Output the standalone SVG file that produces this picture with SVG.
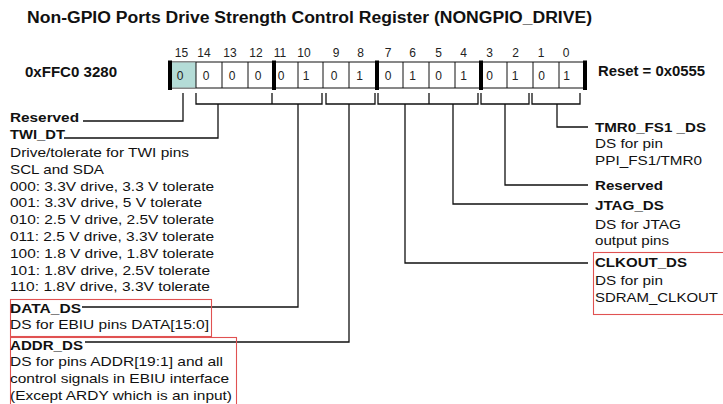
<svg xmlns="http://www.w3.org/2000/svg" width="723" height="404" viewBox="0 0 723 404">
<style>
text { font-family: "Liberation Sans", Arial, sans-serif; fill: #111; }
.title { font-size: 16px; font-weight: bold; }
.hdr { font-size: 14px; font-weight: bold; }
.num { font-size: 12px; text-anchor: middle; fill: #222; }
.lbl { font-size: 13px; font-weight: bold; }
.txt { font-size: 13px; }
.cell { fill: #fff; stroke: #111; stroke-width: 1; }
.bar { fill: #000; }
.conn { fill: none; stroke: #111; stroke-width: 1.3; }
.red { fill: none; stroke: #e05252; stroke-width: 1.1; }
</style>
<rect width="723" height="404" fill="#fff"/>

<g id="title">
<text class="title" x="27" y="23" textLength="565" lengthAdjust="spacingAndGlyphs">Non-GPIO Ports Drive Strength Control Register (NONGPIO_DRIVE)</text>
</g>

<g id="address">
<text class="hdr" x="25" y="77" textLength="92" lengthAdjust="spacingAndGlyphs">0xFFC0 3280</text>
</g>
<g id="reset">
<text class="hdr" x="598" y="75.5" textLength="107" lengthAdjust="spacingAndGlyphs">Reset = 0x0555</text>
</g>

<g id="register">
<rect class="cell" x="170" y="62" width="415" height="26"/>
<rect x="172" y="62.5" width="24" height="25" fill="#b4dcd7"/>
<path d="M196 62V88M222 62V88M248 62V88M298 62V88M323 62V88M349 62V88M403 62V88M429 62V88M455 62V88M507 62V88M533 62V88M559 62V88" stroke="#111" stroke-width="1"/>
<rect class="bar" x="168" y="60.5" width="4" height="29.5"/>
<rect class="bar" x="272" y="60.5" width="4" height="29.5"/>
<rect class="bar" x="375" y="60.5" width="4" height="29.5"/>
<rect class="bar" x="479" y="60.5" width="4" height="29.5"/>
<rect class="bar" x="583" y="60.5" width="4" height="29.5"/>
<g class="num-row">
<text class="num" x="181.5" y="57">15</text>
<text class="num" x="204" y="57">14</text>
<text class="num" x="230" y="57">13</text>
<text class="num" x="256" y="57">12</text>
<text class="num" x="280" y="57">11</text>
<text class="num" x="304" y="57">10</text>
<text class="num" x="336" y="57">9</text>
<text class="num" x="360.5" y="57">8</text>
<text class="num" x="388" y="57">7</text>
<text class="num" x="412.5" y="57">6</text>
<text class="num" x="438.5" y="57">5</text>
<text class="num" x="463.5" y="57">4</text>
<text class="num" x="489.5" y="57">3</text>
<text class="num" x="515.5" y="57">2</text>
<text class="num" x="541" y="57">1</text>
<text class="num" x="566" y="57">0</text>
</g>
<g class="val-row">
<text class="num" x="180" y="79.5">0</text>
<text class="num" x="206" y="79.5">0</text>
<text class="num" x="232" y="79.5">0</text>
<text class="num" x="258" y="79.5">0</text>
<text class="num" x="281" y="79.5">0</text>
<text class="num" x="306" y="79.5">1</text>
<text class="num" x="334" y="79.5">0</text>
<text class="num" x="359.5" y="79.5">1</text>
<text class="num" x="388" y="79.5">0</text>
<text class="num" x="412.5" y="79.5">1</text>
<text class="num" x="438.5" y="79.5">0</text>
<text class="num" x="463.5" y="79.5">1</text>
<text class="num" x="489.5" y="79.5">0</text>
<text class="num" x="515" y="79.5">1</text>
<text class="num" x="541.5" y="79.5">0</text>
<text class="num" x="566.5" y="79.5">1</text>
</g>
</g>

<g id="connectors">
<path class="conn" d="M183 93V121H83"/>
<path class="conn" d="M196 93V104H272M272 93V104H322V93M218 104V138H64"/>
<path class="conn" d="M298 104V307H82"/>
<path class="conn" d="M326 93V104H375V93M349 104V342H85"/>
<path class="conn" d="M378 93V104H478V93M429 93V104"/>
<path class="conn" d="M405 104V263H588"/>
<path class="conn" d="M453 104V204H588"/>
<path class="conn" d="M481 93V104H529V93M505 104V185H588"/>
<path class="conn" d="M532 93V104H580V93M557 104V127H588"/>
</g>

<g id="bit15-reserved">
<text class="lbl" x="10" y="121.5" textLength="69" lengthAdjust="spacingAndGlyphs">Reserved</text>
</g>

<g id="twi_dt">
<text class="lbl" x="10" y="138.5" textLength="55" lengthAdjust="spacingAndGlyphs">TWI_DT</text>
<text class="txt" x="10" y="157" textLength="179" lengthAdjust="spacingAndGlyphs">Drive/tolerate for TWI pins</text>
<text class="txt" x="10" y="173.8" textLength="94" lengthAdjust="spacingAndGlyphs">SCL and SDA</text>
<text class="txt" x="10" y="190.6" textLength="204" lengthAdjust="spacingAndGlyphs">000: 3.3V drive, 3.3 V tolerate</text>
<text class="txt" x="10" y="207.4" textLength="192" lengthAdjust="spacingAndGlyphs">001: 3.3V drive, 5 V tolerate</text>
<text class="txt" x="10" y="224.2" textLength="204" lengthAdjust="spacingAndGlyphs">010: 2.5 V drive, 2.5V tolerate</text>
<text class="txt" x="10" y="241" textLength="204" lengthAdjust="spacingAndGlyphs">011: 2.5 V drive, 3.3V tolerate</text>
<text class="txt" x="10" y="257.8" textLength="204" lengthAdjust="spacingAndGlyphs">100: 1.8 V drive, 1.8V tolerate</text>
<text class="txt" x="10" y="274.6" textLength="200" lengthAdjust="spacingAndGlyphs">101: 1.8V drive, 2.5V tolerate</text>
<text class="txt" x="10" y="291.4" textLength="200" lengthAdjust="spacingAndGlyphs">110: 1.8V drive, 3.3V tolerate</text>
</g>

<g id="data_ds">
<rect class="red" x="10.5" y="299.5" width="201" height="37"/>
<text class="lbl" x="10" y="312.5" textLength="71" lengthAdjust="spacingAndGlyphs">DATA_DS</text>
<text class="txt" x="10" y="328.5" textLength="199" lengthAdjust="spacingAndGlyphs">DS for EBIU pins DATA[15:0]</text>
</g>

<g id="addr_ds">
<rect class="red" x="10.5" y="337.5" width="226" height="80"/>
<text class="lbl" x="10" y="349.5" textLength="73" lengthAdjust="spacingAndGlyphs">ADDR_DS</text>
<text class="txt" x="10" y="366.3" textLength="213" lengthAdjust="spacingAndGlyphs">DS for pins ADDR[19:1] and all</text>
<text class="txt" x="10" y="383.1" textLength="219" lengthAdjust="spacingAndGlyphs">control signals in EBIU interface</text>
<text class="txt" x="10" y="399.9" textLength="222" lengthAdjust="spacingAndGlyphs">(Except ARDY which is an input)</text>
</g>

<g id="tmr0_fs1_ds">
<text class="lbl" x="595" y="131.7" textLength="111" lengthAdjust="spacingAndGlyphs">TMR0_FS1 _DS</text>
<text class="txt" x="595" y="148" textLength="68" lengthAdjust="spacingAndGlyphs">DS for pin</text>
<text class="txt" x="595" y="164.5" textLength="107" lengthAdjust="spacingAndGlyphs">PPI_FS1/TMR0</text>
</g>

<g id="bit2-reserved">
<text class="lbl" x="595" y="190" textLength="68" lengthAdjust="spacingAndGlyphs">Reserved</text>
</g>

<g id="jtag_ds">
<text class="lbl" x="595" y="210" textLength="69" lengthAdjust="spacingAndGlyphs">JTAG_DS</text>
<text class="txt" x="595" y="229" textLength="86" lengthAdjust="spacingAndGlyphs">DS for JTAG</text>
<text class="txt" x="595" y="245" textLength="74" lengthAdjust="spacingAndGlyphs">output pins</text>
</g>

<g id="clkout_ds">
<rect class="red" x="593.5" y="252.5" width="140" height="62"/>
<text class="lbl" x="595" y="267.3" textLength="92" lengthAdjust="spacingAndGlyphs">CLKOUT_DS</text>
<text class="txt" x="595" y="285" textLength="68" lengthAdjust="spacingAndGlyphs">DS for pin</text>
<text class="txt" x="595" y="301.7" textLength="123" lengthAdjust="spacingAndGlyphs">SDRAM_CLKOUT</text>
</g>
</svg>
